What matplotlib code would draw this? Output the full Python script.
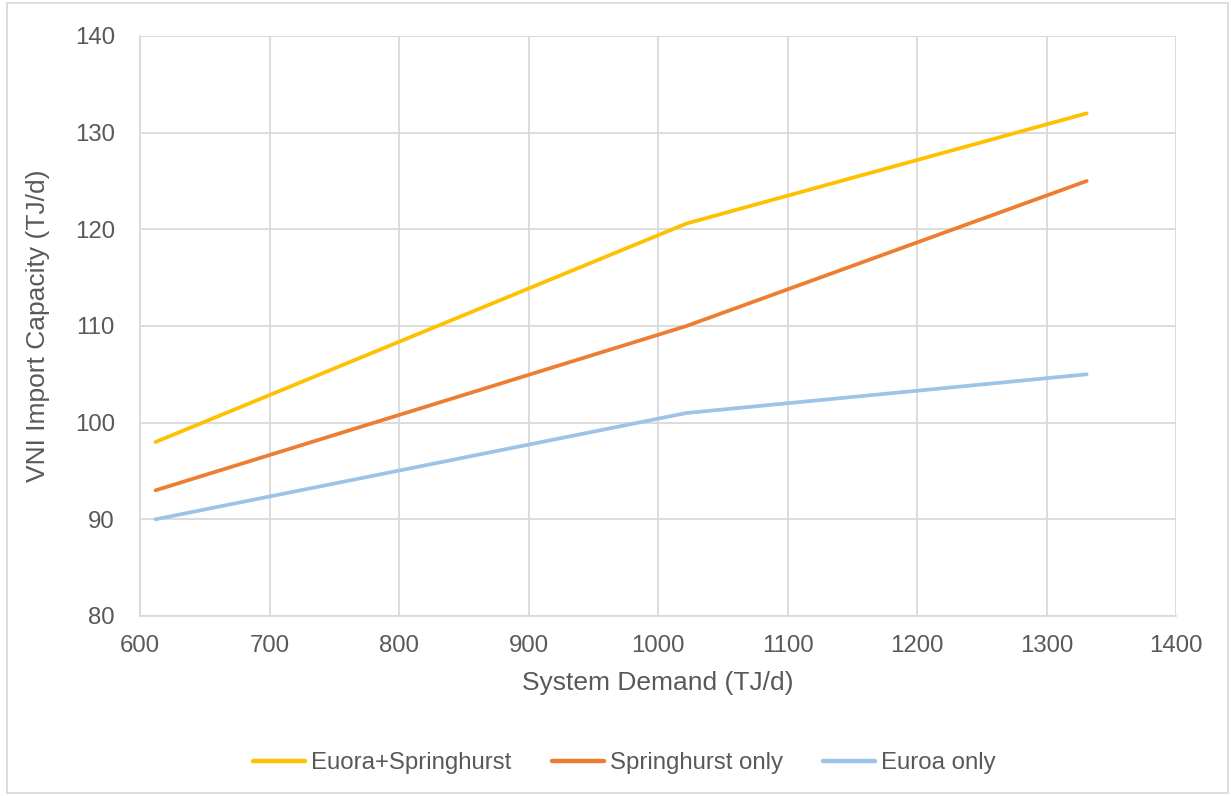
import matplotlib
matplotlib.use('Agg')
from matplotlib import pyplot as plt
from matplotlib.patches import Rectangle

# data
demand = [612, 1022, 1331]
euora_springhurst = [98, 120.6, 132]
springhurst_only = [93, 110, 125]
euroa_only = [90, 101, 105]

series_names = ['Euora+Springhurst', 'Springhurst only', 'Euroa only']
series_colors = ['#FFC000', '#ED7D31', '#9DC3E6']

plt.rcParams['font.family'] = ['Liberation Sans', 'DejaVu Sans']
TXT = '#595959'

fig = plt.figure(figsize=(12.31, 7.96), dpi=100)
ax = fig.add_axes([140/1231, 180/796, 1036/1231, 580/796])

for yv, name, col in zip([euora_springhurst, springhurst_only, euroa_only], series_names, series_colors):
    ax.plot(demand, yv, color=col, lw=2.7, label=name, solid_capstyle='round')

ax.set_xlim(600, 1400)
ax.set_ylim(80, 140)
ax.set_xticks(range(600, 1401, 100))
ax.set_yticks(range(80, 141, 10))
ax.grid(True, color='#d9d9d9', lw=1.3)
ax.set_axisbelow(True)
for s in ['top', 'right']:
    ax.spines[s].set_visible(False)
for s in ['left', 'bottom']:
    ax.spines[s].set_color('#d9d9d9')
    ax.spines[s].set_linewidth(1.3)
ax.tick_params(length=0, labelsize=17.3, colors=TXT)
ax.tick_params(axis='x', pad=14)
ax.tick_params(axis='y', pad=18)
ax.set_xlabel('System Demand (TJ/d)', fontsize=19, color=TXT, labelpad=10)
ax.set_ylabel('VNI Import Capacity (TJ/d)', fontsize=19, color=TXT, labelpad=18)

fig.legend(loc='center', bbox_to_anchor=(0.5 + 9/1231, 1 - 763/796), ncol=3, frameon=False,
           fontsize=17.3, labelcolor=TXT, handlelength=2.15, columnspacing=1.7, handletextpad=0.25)
for ln in fig.legends[0].get_lines():
    ln.set_linewidth(3.2)

fig.patches.append(Rectangle((7/1231, 3/796), 1221/1231, 790/796, transform=fig.transFigure,
                             fill=False, edgecolor='#d9d9d9', lw=1.3))

fig.savefig('out.png', dpi=100)
